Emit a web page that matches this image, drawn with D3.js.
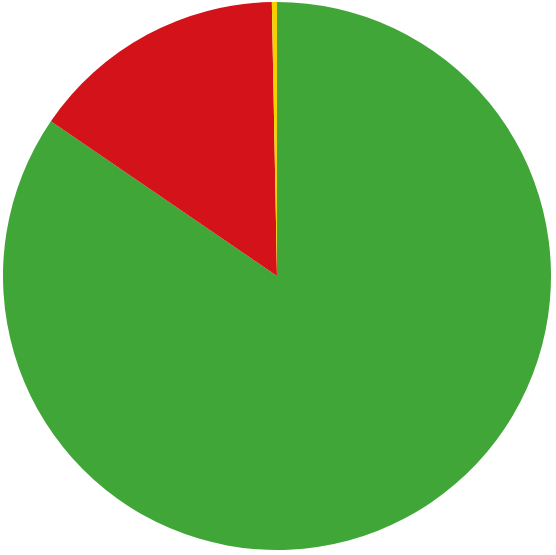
<!DOCTYPE html>
<html><head><meta charset="utf-8">
<script src="https://cdn.jsdelivr.net/npm/d3@7"></script>
<style>html,body{margin:0;padding:0;background:#fff;}svg{display:block;}</style>
</head><body>
<svg id="chart" width="556" height="555"></svg>
<script>
const categories = ["Green", "Red", "Yellow"];
const values = [84.55, 15.15, 0.3];
const colors = ["#41a638", "#d31319", "#f5d000"];

const svg = d3.select("#chart");
const cx = 277, cy = 276, radius = 274;
const g = svg.append("g").attr("transform", `translate(${cx},${cy})`);
const pie = d3.pie().sort(null).value(d => d.v);
const arc = d3.arc().innerRadius(0).outerRadius(radius);
const data = categories.map((c, i) => ({c, v: values[i], col: colors[i]}));
g.selectAll("path").data(pie(data)).join("path")
  .attr("d", arc)
  .attr("fill", d => d.data.col);
</script>
</body></html>
